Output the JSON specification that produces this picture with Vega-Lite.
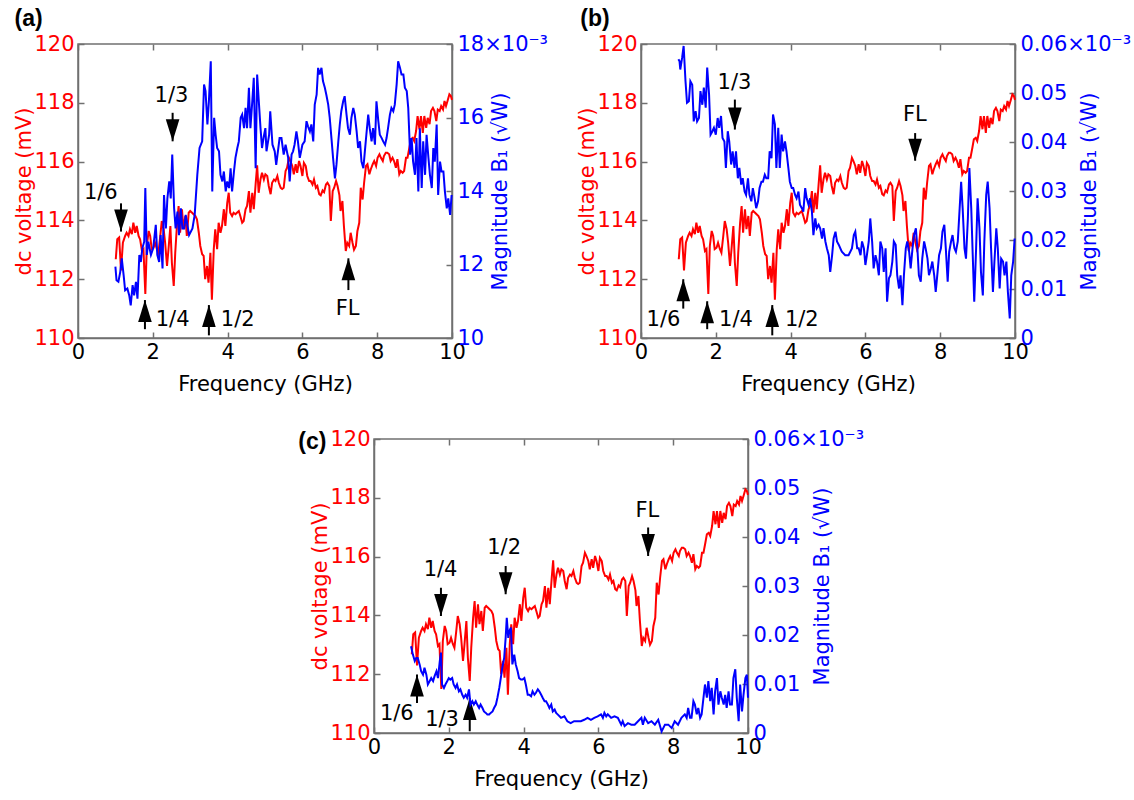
{
  "$schema": "https://vega.github.io/schema/vega-lite/v6.json",
  "background": "white",
  "padding": {"left": 12, "top": 7, "right": 0, "bottom": 0},
  "bounds": "flush",
  "spacing": 395,
  "datasets": {
    "dc": [
      {"f":1.01,"v":112.68},{"f":1.05,"v":113.36},{"f":1.10,"v":113.42},{"f":1.15,"v":112.3},{"f":1.20,"v":113.24},{"f":1.26,"v":113.47},{"f":1.30,"v":113.58},{"f":1.35,"v":113.47},{"f":1.39,"v":113.70},{"f":1.44,"v":113.53},{"f":1.48,"v":113.92},{"f":1.53,"v":113.58},{"f":1.57,"v":113.81},{"f":1.62,"v":113.47},{"f":1.66,"v":113.36},{"f":1.71,"v":112.96},{"f":1.75,"v":113.02},{"f":1.80,"v":111.5},{"f":1.84,"v":113.13},{"f":1.89,"v":113.64},{"f":1.93,"v":113.47},{"f":1.97,"v":113.02},{"f":2.02,"v":113.07},{"f":2.06,"v":113.24},{"f":2.11,"v":113.02},{"f":2.15,"v":112.90},{"f":2.20,"v":113.47},{"f":2.24,"v":113.98},{"f":2.29,"v":113.70},{"f":2.33,"v":113.24},{"f":2.38,"v":112.45},{"f":2.42,"v":113.02},{"f":2.47,"v":113.81},{"f":2.51,"v":112.56},{"f":2.56,"v":111.77},{"f":2.60,"v":112.90},{"f":2.65,"v":113.92},{"f":2.69,"v":114.49},{"f":2.73,"v":113.58},{"f":2.78,"v":114.38},{"f":2.82,"v":113.70},{"f":2.87,"v":114.15},{"f":2.91,"v":113.47},{"f":2.96,"v":114.26},{"f":3.00,"v":114.32},{"f":3.05,"v":114.26},{"f":3.09,"v":114.21},{"f":3.14,"v":114.15},{"f":3.18,"v":114.04},{"f":3.23,"v":113.58},{"f":3.27,"v":113.13},{"f":3.32,"v":112.85},{"f":3.36,"v":112.79},{"f":3.40,"v":112.0},{"f":3.45,"v":112.45},{"f":3.49,"v":111.88},{"f":3.54,"v":112.90},{"f":3.58,"v":111.3},{"f":3.63,"v":113.02},{"f":3.67,"v":113.70},{"f":3.72,"v":113.02},{"f":3.76,"v":113.92},{"f":3.81,"v":113.58},{"f":3.85,"v":113.81},{"f":3.90,"v":114.38},{"f":3.94,"v":113.81},{"f":3.99,"v":114.60},{"f":4.03,"v":114.94},{"f":4.07,"v":114.26},{"f":4.12,"v":114.15},{"f":4.16,"v":114.26},{"f":4.21,"v":114.21},{"f":4.25,"v":114.26},{"f":4.30,"v":114.32},{"f":4.34,"v":114.15},{"f":4.39,"v":113.92},{"f":4.43,"v":113.98},{"f":4.48,"v":114.38},{"f":4.52,"v":114.49},{"f":4.57,"v":115.00},{"f":4.61,"v":114.26},{"f":4.66,"v":114.94},{"f":4.70,"v":114.38},{"f":4.75,"v":115.24},{"f":4.79,"v":115.87},{"f":4.83,"v":114.94},{"f":4.88,"v":115.40},{"f":4.92,"v":115.62},{"f":4.97,"v":115.39},{"f":5.01,"v":115.57},{"f":5.06,"v":115.51},{"f":5.10,"v":115.17},{"f":5.15,"v":114.89},{"f":5.19,"v":115.28},{"f":5.24,"v":115.39},{"f":5.28,"v":115.34},{"f":5.33,"v":115.51},{"f":5.37,"v":115.28},{"f":5.42,"v":115.11},{"f":5.46,"v":115.07},{"f":5.50,"v":115.11},{"f":5.55,"v":115.68},{"f":5.59,"v":115.79},{"f":5.64,"v":116.13},{"f":5.68,"v":116.02},{"f":5.73,"v":115.85},{"f":5.77,"v":115.57},{"f":5.82,"v":115.91},{"f":5.86,"v":115.62},{"f":5.91,"v":116.02},{"f":5.95,"v":115.85},{"f":6.00,"v":115.51},{"f":6.04,"v":115.96},{"f":6.09,"v":115.85},{"f":6.13,"v":115.51},{"f":6.18,"v":115.34},{"f":6.22,"v":115.34},{"f":6.27,"v":115.22},{"f":6.31,"v":115.39},{"f":6.36,"v":115.11},{"f":6.40,"v":115.17},{"f":6.45,"v":114.89},{"f":6.49,"v":114.85},{"f":6.54,"v":115.02},{"f":6.58,"v":114.96},{"f":6.63,"v":115.22},{"f":6.67,"v":115.28},{"f":6.72,"v":115.17},{"f":6.76,"v":113.98},{"f":6.81,"v":115.00},{"f":6.85,"v":115.11},{"f":6.90,"v":115.34},{"f":6.94,"v":115.17},{"f":6.99,"v":114.85},{"f":7.02,"v":114.32},{"f":7.07,"v":114.66},{"f":7.11,"v":113.81},{"f":7.16,"v":112.96},{"f":7.20,"v":113.24},{"f":7.25,"v":113.13},{"f":7.29,"v":113.58},{"f":7.34,"v":113.24},{"f":7.38,"v":113.00},{"f":7.43,"v":113.13},{"f":7.47,"v":113.63},{"f":7.52,"v":113.92},{"f":7.56,"v":115.11},{"f":7.61,"v":114.71},{"f":7.65,"v":115.28},{"f":7.70,"v":115.85},{"f":7.74,"v":115.91},{"f":7.79,"v":115.57},{"f":7.83,"v":115.74},{"f":7.88,"v":115.91},{"f":7.92,"v":116.02},{"f":7.97,"v":115.85},{"f":8.01,"v":116.13},{"f":8.06,"v":116.25},{"f":8.10,"v":116.13},{"f":8.15,"v":116.02},{"f":8.18,"v":116.19},{"f":8.23,"v":116.30},{"f":8.27,"v":116.30},{"f":8.32,"v":116.25},{"f":8.36,"v":116.02},{"f":8.41,"v":116.13},{"f":8.45,"v":116.02},{"f":8.50,"v":115.79},{"f":8.54,"v":116.08},{"f":8.59,"v":115.57},{"f":8.63,"v":115.68},{"f":8.68,"v":115.62},{"f":8.72,"v":115.68},{"f":8.77,"v":116.13},{"f":8.81,"v":116.13},{"f":8.86,"v":116.47},{"f":8.90,"v":116.76},{"f":8.95,"v":116.81},{"f":8.99,"v":116.70},{"f":9.04,"v":117.04},{"f":9.08,"v":117.55},{"f":9.13,"v":117.10},{"f":9.17,"v":117.55},{"f":9.22,"v":116.98},{"f":9.26,"v":117.55},{"f":9.31,"v":117.15},{"f":9.35,"v":117.49},{"f":9.40,"v":117.27},{"f":9.44,"v":117.72},{"f":9.49,"v":117.83},{"f":9.53,"v":117.72},{"f":9.58,"v":117.38},{"f":9.62,"v":117.77},{"f":9.67,"v":117.72},{"f":9.71,"v":117.89},{"f":9.76,"v":117.77},{"f":9.80,"v":118.06},{"f":9.84,"v":117.89},{"f":9.88,"v":118.06},{"f":9.93,"v":118.29},{"f":9.97,"v":118.23},{"f":10.0,"v":118.1}
    ],
    "ba": [
      {"f":1.00,"b":11.94},{"f":1.03,"b":11.57},{"f":1.08,"b":11.53},{"f":1.13,"b":11.80},{"f":1.17,"b":12.17},{"f":1.22,"b":11.71},{"f":1.26,"b":11.30},{"f":1.32,"b":11.35},{"f":1.37,"b":11.16},{"f":1.41,"b":10.89},{"f":1.46,"b":11.44},{"f":1.50,"b":11.16},{"f":1.55,"b":11.53},{"f":1.59,"b":11.07},{"f":1.64,"b":12.26},{"f":1.68,"b":12.07},{"f":1.72,"b":12.44},{"f":1.77,"b":12.62},{"f":1.80,"b":14.08},{"f":1.84,"b":12.26},{"f":1.88,"b":12.62},{"f":1.95,"b":12.26},{"f":2.01,"b":12.44},{"f":2.08,"b":13.08},{"f":2.12,"b":12.26},{"f":2.17,"b":12.07},{"f":2.21,"b":12.80},{"f":2.26,"b":11.89},{"f":2.30,"b":13.89},{"f":2.35,"b":12.98},{"f":2.39,"b":13.80},{"f":2.44,"b":14.26},{"f":2.48,"b":13.80},{"f":2.52,"b":14.99},{"f":2.57,"b":13.53},{"f":2.61,"b":12.98},{"f":2.66,"b":13.44},{"f":2.70,"b":12.80},{"f":2.75,"b":13.53},{"f":2.79,"b":12.98},{"f":2.84,"b":12.98},{"f":2.88,"b":13.35},{"f":2.97,"b":12.80},{"f":3.06,"b":12.98},{"f":3.12,"b":13.35},{"f":3.19,"b":14.44},{"f":3.25,"b":15.17},{"f":3.32,"b":15.35},{"f":3.37,"b":16.90},{"f":3.41,"b":16.72},{"f":3.46,"b":15.81},{"f":3.50,"b":16.44},{"f":3.55,"b":17.53},{"f":3.59,"b":13.99},{"f":3.64,"b":15.99},{"f":3.68,"b":15.53},{"f":3.72,"b":15.17},{"f":3.77,"b":15.08},{"f":3.81,"b":14.44},{"f":3.86,"b":14.26},{"f":3.90,"b":14.53},{"f":3.95,"b":13.99},{"f":3.99,"b":14.26},{"f":4.04,"b":14.08},{"f":4.08,"b":14.62},{"f":4.12,"b":13.99},{"f":4.17,"b":14.53},{"f":4.21,"b":14.90},{"f":4.26,"b":15.17},{"f":4.30,"b":15.35},{"f":4.35,"b":15.99},{"f":4.39,"b":16.08},{"f":4.44,"b":15.71},{"f":4.48,"b":16.26},{"f":4.52,"b":15.71},{"f":4.57,"b":16.81},{"f":4.61,"b":15.71},{"f":4.66,"b":16.44},{"f":4.70,"b":17.08},{"f":4.75,"b":14.62},{"f":4.79,"b":17.17},{"f":4.84,"b":16.35},{"f":4.88,"b":15.71},{"f":4.92,"b":15.17},{"f":4.97,"b":15.50},{"f":5.01,"b":15.71},{"f":5.04,"b":15.08},{"f":5.11,"b":15.53},{"f":5.14,"b":16.17},{"f":5.20,"b":15.26},{"f":5.26,"b":15.08},{"f":5.30,"b":14.71},{"f":5.39,"b":15.44},{"f":5.44,"b":15.44},{"f":5.50,"b":14.99},{"f":5.55,"b":15.26},{"f":5.62,"b":14.90},{"f":5.66,"b":14.26},{"f":5.71,"b":14.99},{"f":5.75,"b":15.08},{"f":5.79,"b":15.26},{"f":5.84,"b":15.62},{"f":5.88,"b":15.35},{"f":5.93,"b":14.90},{"f":6.00,"b":15.26},{"f":6.06,"b":15.35},{"f":6.11,"b":15.90},{"f":6.15,"b":15.76},{"f":6.20,"b":15.62},{"f":6.24,"b":15.81},{"f":6.29,"b":15.35},{"f":6.33,"b":16.35},{"f":6.38,"b":16.62},{"f":6.42,"b":17.35},{"f":6.46,"b":17.17},{"f":6.51,"b":17.35},{"f":6.55,"b":16.99},{"f":6.60,"b":16.81},{"f":6.64,"b":16.62},{"f":6.69,"b":16.35},{"f":6.73,"b":16.00},{"f":6.78,"b":15.40},{"f":6.82,"b":14.90},{"f":6.87,"b":14.34},{"f":6.91,"b":14.71},{"f":6.96,"b":15.35},{"f":7.00,"b":15.81},{"f":7.04,"b":16.17},{"f":7.09,"b":16.44},{"f":7.13,"b":16.58},{"f":7.18,"b":16.08},{"f":7.22,"b":15.71},{"f":7.27,"b":15.53},{"f":7.31,"b":15.99},{"f":7.36,"b":16.26},{"f":7.40,"b":16.08},{"f":7.45,"b":15.62},{"f":7.49,"b":15.17},{"f":7.54,"b":15.35},{"f":7.58,"b":14.80},{"f":7.63,"b":14.62},{"f":7.67,"b":15.08},{"f":7.71,"b":15.53},{"f":7.76,"b":16.08},{"f":7.80,"b":15.71},{"f":7.85,"b":15.35},{"f":7.89,"b":15.71},{"f":7.94,"b":15.26},{"f":7.98,"b":16.44},{"f":8.03,"b":15.90},{"f":8.07,"b":15.53},{"f":8.12,"b":15.44},{"f":8.16,"b":15.35},{"f":8.21,"b":15.26},{"f":8.25,"b":15.44},{"f":8.29,"b":15.71},{"f":8.34,"b":16.08},{"f":8.38,"b":16.26},{"f":8.43,"b":16.17},{"f":8.47,"b":16.35},{"f":8.52,"b":16.90},{"f":8.56,"b":17.53},{"f":8.61,"b":17.35},{"f":8.65,"b":17.17},{"f":8.70,"b":17.17},{"f":8.74,"b":16.81},{"f":8.79,"b":16.72},{"f":8.83,"b":16.26},{"f":8.88,"b":14.99},{"f":8.92,"b":15.44},{"f":8.96,"b":14.80},{"f":9.01,"b":14.44},{"f":9.05,"b":15.44},{"f":9.10,"b":13.99},{"f":9.14,"b":15.71},{"f":9.19,"b":14.08},{"f":9.23,"b":15.35},{"f":9.28,"b":14.44},{"f":9.32,"b":15.53},{"f":9.37,"b":14.90},{"f":9.41,"b":14.44},{"f":9.46,"b":14.08},{"f":9.50,"b":15.17},{"f":9.54,"b":14.80},{"f":9.59,"b":15.81},{"f":9.63,"b":13.89},{"f":9.68,"b":14.80},{"f":9.72,"b":14.53},{"f":9.77,"b":14.53},{"f":9.81,"b":13.99},{"f":9.86,"b":13.53},{"f":9.90,"b":13.80},{"f":9.95,"b":13.35},{"f":9.99,"b":13.89}
    ],
    "bb": [
      {"f":1.00,"b":0.0569},{"f":1.03,"b":0.0565},{"f":1.05,"b":0.0548},{"f":1.10,"b":0.0572},{"f":1.14,"b":0.0596},{"f":1.19,"b":0.0524},{"f":1.23,"b":0.0480},{"f":1.28,"b":0.0483},{"f":1.32,"b":0.0524},{"f":1.37,"b":0.0517},{"f":1.41,"b":0.0442},{"f":1.46,"b":0.0463},{"f":1.50,"b":0.0442},{"f":1.55,"b":0.0449},{"f":1.59,"b":0.0504},{"f":1.64,"b":0.0476},{"f":1.68,"b":0.0511},{"f":1.73,"b":0.0470},{"f":1.77,"b":0.0552},{"f":1.82,"b":0.0497},{"f":1.86,"b":0.0415},{"f":1.91,"b":0.0422},{"f":1.95,"b":0.0429},{"f":2.00,"b":0.0415},{"f":2.05,"b":0.0449},{"f":2.09,"b":0.0429},{"f":2.14,"b":0.0453},{"f":2.18,"b":0.0408},{"f":2.23,"b":0.0401},{"f":2.27,"b":0.0347},{"f":2.32,"b":0.0422},{"f":2.36,"b":0.0401},{"f":2.41,"b":0.0354},{"f":2.45,"b":0.0381},{"f":2.50,"b":0.0347},{"f":2.54,"b":0.0381},{"f":2.59,"b":0.0326},{"f":2.63,"b":0.0347},{"f":2.68,"b":0.0313},{"f":2.72,"b":0.0326},{"f":2.77,"b":0.0299},{"f":2.81,"b":0.0292},{"f":2.86,"b":0.0326},{"f":2.90,"b":0.0292},{"f":2.95,"b":0.0279},{"f":2.99,"b":0.0306},{"f":3.04,"b":0.0285},{"f":3.08,"b":0.0265},{"f":3.13,"b":0.0279},{"f":3.17,"b":0.0306},{"f":3.22,"b":0.0319},{"f":3.26,"b":0.0319},{"f":3.31,"b":0.0333},{"f":3.35,"b":0.0326},{"f":3.40,"b":0.0326},{"f":3.44,"b":0.0381},{"f":3.49,"b":0.0367},{"f":3.53,"b":0.0456},{"f":3.58,"b":0.0436},{"f":3.62,"b":0.0347},{"f":3.67,"b":0.0429},{"f":3.71,"b":0.0347},{"f":3.76,"b":0.0415},{"f":3.80,"b":0.0381},{"f":3.85,"b":0.0401},{"f":3.89,"b":0.0381},{"f":3.94,"b":0.0347},{"f":3.98,"b":0.0319},{"f":4.03,"b":0.0306},{"f":4.07,"b":0.0306},{"f":4.12,"b":0.0292},{"f":4.16,"b":0.0285},{"f":4.21,"b":0.0299},{"f":4.25,"b":0.0272},{"f":4.30,"b":0.0265},{"f":4.34,"b":0.0258},{"f":4.39,"b":0.0306},{"f":4.43,"b":0.0285},{"f":4.48,"b":0.0272},{"f":4.52,"b":0.0285},{"f":4.57,"b":0.0258},{"f":4.61,"b":0.0210},{"f":4.66,"b":0.0244},{"f":4.70,"b":0.0224},{"f":4.75,"b":0.0231},{"f":4.79,"b":0.0224},{"f":4.84,"b":0.0203},{"f":4.88,"b":0.0224},{"f":4.93,"b":0.0197},{"f":4.97,"b":0.0183},{"f":5.02,"b":0.0169},{"f":5.06,"b":0.0135},{"f":5.11,"b":0.0169},{"f":5.15,"b":0.0203},{"f":5.20,"b":0.0217},{"f":5.24,"b":0.0197},{"f":5.29,"b":0.0190},{"f":5.33,"b":0.0183},{"f":5.37,"b":0.0176},{"f":5.46,"b":0.0169},{"f":5.55,"b":0.0169},{"f":5.64,"b":0.0183},{"f":5.69,"b":0.0210},{"f":5.73,"b":0.0217},{"f":5.78,"b":0.0183},{"f":5.82,"b":0.0183},{"f":5.87,"b":0.0169},{"f":5.91,"b":0.0197},{"f":5.96,"b":0.0183},{"f":6.00,"b":0.0149},{"f":6.04,"b":0.0169},{"f":6.09,"b":0.0197},{"f":6.13,"b":0.0244},{"f":6.18,"b":0.0197},{"f":6.22,"b":0.0142},{"f":6.27,"b":0.0169},{"f":6.31,"b":0.0156},{"f":6.36,"b":0.0128},{"f":6.40,"b":0.0197},{"f":6.45,"b":0.0183},{"f":6.49,"b":0.0135},{"f":6.54,"b":0.0183},{"f":6.58,"b":0.0074},{"f":6.63,"b":0.0122},{"f":6.67,"b":0.0128},{"f":6.72,"b":0.0156},{"f":6.76,"b":0.0197},{"f":6.81,"b":0.0190},{"f":6.85,"b":0.0128},{"f":6.90,"b":0.0101},{"f":6.94,"b":0.0128},{"f":6.99,"b":0.0067},{"f":7.03,"b":0.0128},{"f":7.08,"b":0.0183},{"f":7.12,"b":0.0197},{"f":7.17,"b":0.0176},{"f":7.21,"b":0.0142},{"f":7.26,"b":0.0183},{"f":7.30,"b":0.0210},{"f":7.35,"b":0.0224},{"f":7.39,"b":0.0183},{"f":7.43,"b":0.0128},{"f":7.48,"b":0.0115},{"f":7.52,"b":0.0162},{"f":7.57,"b":0.0197},{"f":7.61,"b":0.0183},{"f":7.66,"b":0.0162},{"f":7.70,"b":0.0128},{"f":7.75,"b":0.0142},{"f":7.79,"b":0.0156},{"f":7.84,"b":0.0128},{"f":7.88,"b":0.0094},{"f":7.93,"b":0.0135},{"f":7.97,"b":0.0169},{"f":8.02,"b":0.0183},{"f":8.06,"b":0.0217},{"f":8.11,"b":0.0231},{"f":8.15,"b":0.0183},{"f":8.20,"b":0.0115},{"f":8.24,"b":0.0176},{"f":8.29,"b":0.0197},{"f":8.33,"b":0.0210},{"f":8.38,"b":0.0183},{"f":8.42,"b":0.0176},{"f":8.47,"b":0.0197},{"f":8.51,"b":0.0251},{"f":8.56,"b":0.0319},{"f":8.60,"b":0.0265},{"f":8.65,"b":0.0183},{"f":8.69,"b":0.0162},{"f":8.74,"b":0.0244},{"f":8.78,"b":0.0347},{"f":8.83,"b":0.0265},{"f":8.87,"b":0.0169},{"f":8.91,"b":0.0074},{"f":8.96,"b":0.0183},{"f":9.00,"b":0.0285},{"f":9.05,"b":0.0224},{"f":9.09,"b":0.0135},{"f":9.14,"b":0.0087},{"f":9.18,"b":0.0197},{"f":9.23,"b":0.0292},{"f":9.27,"b":0.0319},{"f":9.32,"b":0.0265},{"f":9.36,"b":0.0183},{"f":9.41,"b":0.0094},{"f":9.45,"b":0.0156},{"f":9.50,"b":0.0224},{"f":9.54,"b":0.0183},{"f":9.59,"b":0.0101},{"f":9.63,"b":0.0162},{"f":9.68,"b":0.0156},{"f":9.72,"b":0.0128},{"f":9.77,"b":0.0156},{"f":9.81,"b":0.0094},{"f":9.86,"b":0.0040},{"f":9.90,"b":0.0128},{"f":9.95,"b":0.0156},{"f":9.99,"b":0.0203}
    ],
    "bc": [
      {"f":0.99,"b":0.0177},{"f":1.04,"b":0.0160},{"f":1.09,"b":0.0147},{"f":1.13,"b":0.0153},{"f":1.17,"b":0.0153},{"f":1.22,"b":0.0140},{"f":1.26,"b":0.0126},{"f":1.31,"b":0.0119},{"f":1.35,"b":0.0133},{"f":1.40,"b":0.0119},{"f":1.44,"b":0.0099},{"f":1.49,"b":0.0106},{"f":1.53,"b":0.0112},{"f":1.58,"b":0.0106},{"f":1.62,"b":0.0116},{"f":1.67,"b":0.0126},{"f":1.71,"b":0.0112},{"f":1.76,"b":0.0147},{"f":1.79,"b":0.0164},{"f":1.82,"b":0.0099},{"f":1.87,"b":0.0092},{"f":1.91,"b":0.0099},{"f":1.96,"b":0.0106},{"f":2.00,"b":0.0112},{"f":2.04,"b":0.0109},{"f":2.09,"b":0.0112},{"f":2.13,"b":0.0099},{"f":2.18,"b":0.0092},{"f":2.22,"b":0.0099},{"f":2.27,"b":0.0085},{"f":2.31,"b":0.0089},{"f":2.36,"b":0.0078},{"f":2.40,"b":0.0072},{"f":2.45,"b":0.0078},{"f":2.49,"b":0.0072},{"f":2.54,"b":0.0089},{"f":2.58,"b":0.0058},{"f":2.63,"b":0.0065},{"f":2.67,"b":0.0058},{"f":2.72,"b":0.0065},{"f":2.76,"b":0.0058},{"f":2.81,"b":0.0051},{"f":2.85,"b":0.0058},{"f":2.90,"b":0.0051},{"f":2.94,"b":0.0044},{"f":2.99,"b":0.0041},{"f":3.03,"b":0.0038},{"f":3.08,"b":0.0038},{"f":3.12,"b":0.0041},{"f":3.17,"b":0.0044},{"f":3.21,"b":0.0051},{"f":3.26,"b":0.0058},{"f":3.30,"b":0.0072},{"f":3.35,"b":0.0092},{"f":3.39,"b":0.0112},{"f":3.43,"b":0.0133},{"f":3.48,"b":0.0153},{"f":3.52,"b":0.0194},{"f":3.55,"b":0.0235},{"f":3.59,"b":0.0194},{"f":3.62,"b":0.0208},{"f":3.66,"b":0.0215},{"f":3.70,"b":0.0140},{"f":3.75,"b":0.0160},{"f":3.79,"b":0.0140},{"f":3.84,"b":0.0126},{"f":3.88,"b":0.0112},{"f":3.93,"b":0.0109},{"f":3.97,"b":0.0109},{"f":4.02,"b":0.0112},{"f":4.06,"b":0.0099},{"f":4.11,"b":0.0078},{"f":4.15,"b":0.0078},{"f":4.20,"b":0.0075},{"f":4.24,"b":0.0085},{"f":4.29,"b":0.0078},{"f":4.33,"b":0.0082},{"f":4.38,"b":0.0089},{"f":4.42,"b":0.0085},{"f":4.47,"b":0.0078},{"f":4.51,"b":0.0072},{"f":4.56,"b":0.0065},{"f":4.60,"b":0.0065},{"f":4.65,"b":0.0058},{"f":4.69,"b":0.0051},{"f":4.74,"b":0.0058},{"f":4.78,"b":0.0044},{"f":4.83,"b":0.0048},{"f":4.87,"b":0.0041},{"f":4.91,"b":0.0038},{"f":5.00,"b":0.0031},{"f":5.09,"b":0.0034},{"f":5.17,"b":0.0024},{"f":5.26,"b":0.0020},{"f":5.35,"b":0.0024},{"f":5.44,"b":0.0024},{"f":5.53,"b":0.0024},{"f":5.62,"b":0.0027},{"f":5.71,"b":0.0031},{"f":5.80,"b":0.0027},{"f":5.89,"b":0.0031},{"f":5.98,"b":0.0034},{"f":6.07,"b":0.0038},{"f":6.12,"b":0.0031},{"f":6.16,"b":0.0041},{"f":6.21,"b":0.0034},{"f":6.25,"b":0.0038},{"f":6.34,"b":0.0031},{"f":6.43,"b":0.0034},{"f":6.52,"b":0.0031},{"f":6.61,"b":0.0017},{"f":6.65,"b":0.0024},{"f":6.70,"b":0.0014},{"f":6.79,"b":0.0020},{"f":6.88,"b":0.0017},{"f":6.97,"b":0.0017},{"f":7.06,"b":0.0024},{"f":7.15,"b":0.0031},{"f":7.19,"b":0.0017},{"f":7.24,"b":0.0031},{"f":7.33,"b":0.0020},{"f":7.42,"b":0.0024},{"f":7.51,"b":0.0017},{"f":7.60,"b":0.0027},{"f":7.69,"b":0.0003},{"f":7.78,"b":0.0017},{"f":7.87,"b":0.0017},{"f":7.96,"b":0.0010},{"f":8.04,"b":0.0024},{"f":8.13,"b":0.0017},{"f":8.22,"b":0.0031},{"f":8.31,"b":0.0038},{"f":8.36,"b":0.0031},{"f":8.40,"b":0.0051},{"f":8.45,"b":0.0031},{"f":8.49,"b":0.0031},{"f":8.54,"b":0.0065},{"f":8.58,"b":0.0058},{"f":8.63,"b":0.0038},{"f":8.67,"b":0.0051},{"f":8.72,"b":0.0031},{"f":8.76,"b":0.0038},{"f":8.81,"b":0.0072},{"f":8.85,"b":0.0099},{"f":8.90,"b":0.0072},{"f":8.94,"b":0.0106},{"f":8.99,"b":0.0065},{"f":9.03,"b":0.0092},{"f":9.08,"b":0.0038},{"f":9.12,"b":0.0085},{"f":9.17,"b":0.0112},{"f":9.21,"b":0.0058},{"f":9.26,"b":0.0085},{"f":9.30,"b":0.0072},{"f":9.35,"b":0.0058},{"f":9.39,"b":0.0078},{"f":9.43,"b":0.0051},{"f":9.48,"b":0.0085},{"f":9.52,"b":0.0058},{"f":9.57,"b":0.0058},{"f":9.61,"b":0.0112},{"f":9.66,"b":0.0130},{"f":9.70,"b":0.0072},{"f":9.75,"b":0.0024},{"f":9.79,"b":0.0099},{"f":9.84,"b":0.0044},{"f":9.88,"b":0.0078},{"f":9.93,"b":0.0112},{"f":9.97,"b":0.0119},{"f":10.0,"b":0.0072}
    ],
    "arr": [
      {"p":"a","f":1.15,"v":114.58,"v2":113.62,"d":"down"},
      {"p":"a","f":2.53,"v":117.66,"v2":116.69,"d":"down"},
      {"p":"a","f":1.79,"v":110.30,"v2":111.29,"d":"up"},
      {"p":"a","f":3.50,"v":110.09,"v2":111.12,"d":"up"},
      {"p":"a","f":7.23,"v":111.63,"v2":112.71,"d":"up"},
      {"p":"b","f":1.13,"v":111.0,"v2":112.0,"d":"up"},
      {"p":"b","f":1.77,"v":110.3,"v2":111.25,"d":"up"},
      {"p":"b","f":3.51,"v":110.09,"v2":111.12,"d":"up"},
      {"p":"b","f":2.51,"v":118.11,"v2":117.09,"d":"down"},
      {"p":"b","f":7.33,"v":116.97,"v2":116.03,"d":"down"},
      {"p":"c","f":1.15,"v":111.02,"v2":111.99,"d":"up"},
      {"p":"c","f":2.56,"v":110.06,"v2":111.19,"d":"up"},
      {"p":"c","f":1.79,"v":114.94,"v2":113.98,"d":"down"},
      {"p":"c","f":3.52,"v":115.68,"v2":114.72,"d":"down"},
      {"p":"c","f":7.33,"v":116.99,"v2":116.02,"d":"down"}
    ],
    "lab": [
      {"p":"a","t":"1/6","f":0.61,"v":114.93},
      {"p":"a","t":"1/3","f":2.50,"v":118.24},
      {"p":"a","t":"1/4","f":2.53,"v":110.62},
      {"p":"a","t":"1/2","f":4.27,"v":110.62},
      {"p":"a","t":"FL","f":7.21,"v":111.0},
      {"p":"b","t":"1/6","f":0.60,"v":110.6},
      {"p":"b","t":"1/4","f":2.54,"v":110.6},
      {"p":"b","t":"1/2","f":4.30,"v":110.6},
      {"p":"b","t":"1/3","f":2.50,"v":118.66},
      {"p":"b","t":"FL","f":7.32,"v":117.6},
      {"p":"c","t":"1/6","f":0.61,"v":110.65},
      {"p":"c","t":"1/3","f":1.82,"v":110.45},
      {"p":"c","t":"1/4","f":1.78,"v":115.53},
      {"p":"c","t":"1/2","f":3.48,"v":116.3},
      {"p":"c","t":"FL","f":7.31,"v":117.56}
    ],
    "tag": [
      {"p":"a","t":"(a)","f":-1.32,"v":120.85},
      {"p":"b","t":"(b)","f":-1.23,"v":120.85},
      {"p":"c","t":"(c)","f":-1.65,"v":119.9}
    ]
  },
  "vconcat": [
    {
      "bounds": "flush",
      "spacing": 189,
      "hconcat": [
        {
          "width": 374, "height": 294,
          "layer": [
            {
              "layer": [
                {"data": {"name": "dc"}, "mark": {"type": "line", "color": "#ff0000", "strokeWidth": 2},
                 "encoding": {
                   "x": {"field": "f", "type": "quantitative", "scale": {"domain": [0, 10]}, "axis": {"orient": "bottom", "values": [0,2,4,6,8,10], "title": "Frequency (GHz)", "labelPadding": 9, "titleX": 187, "titleY": 46, "titleBaseline": "middle"}},
                   "y": {"field": "v", "type": "quantitative", "scale": {"domain": [110, 120]}, "axis": {"orient": "left", "values": [110,112,114,116,118,120], "title": "dc voltage (mV)", "labelColor": "#ff0000", "titleColor": "#ff0000", "labelPadding": 10, "titleX": -54, "titleY": 147, "titleBaseline": "middle"}}}},
                {"data": {"name": "arr"}, "transform": [{"filter": "datum.p == 'a'"}], "mark": {"type": "rule", "color": "#000000", "strokeWidth": 2},
                 "encoding": {"x": {"field": "f", "type": "quantitative", "scale": {"domain": [0, 10]}}, "y": {"field": "v", "type": "quantitative", "scale": {"domain": [110, 120]}}, "y2": {"field": "v2"}}},
                {"data": {"name": "arr"}, "transform": [{"filter": "datum.p == 'a'"}], "mark": {"type": "point", "filled": true, "opacity": 1, "color": "#000000", "size": 484, "strokeWidth": 0},
                 "encoding": {"x": {"field": "f", "type": "quantitative", "scale": {"domain": [0, 10]}}, "y": {"field": "v2", "type": "quantitative", "scale": {"domain": [110, 120]}},
                   "shape": {"field": "d", "type": "nominal", "scale": {"domain": ["down", "up"], "range": ["M0,0L-0.62,-2L0.62,-2Z", "M0,0L-0.62,2L0.62,2Z"]}, "legend": null}}},
                {"data": {"name": "lab"}, "transform": [{"filter": "datum.p == 'a'"}], "mark": {"type": "text", "font": "DejaVu Sans", "fontSize": 21, "color": "#000000", "baseline": "middle"},
                 "encoding": {"x": {"field": "f", "type": "quantitative", "scale": {"domain": [0, 10]}}, "y": {"field": "v", "type": "quantitative", "scale": {"domain": [110, 120]}}, "text": {"field": "t"}}},
                {"data": {"name": "tag"}, "transform": [{"filter": "datum.p == 'a'"}], "mark": {"type": "text", "font": "Liberation Sans", "fontWeight": "bold", "fontSize": 23, "color": "#000000", "baseline": "middle"},
                 "encoding": {"x": {"field": "f", "type": "quantitative", "scale": {"domain": [0, 10]}}, "y": {"field": "v", "type": "quantitative", "scale": {"domain": [110, 120]}}, "text": {"field": "t"}}}
              ]
            },
            {"data": {"name": "ba"}, "mark": {"type": "line", "color": "#0000ff", "strokeWidth": 2},
             "encoding": {
               "x": {"field": "f", "type": "quantitative", "scale": {"domain": [0, 10]}, "axis": {"orient": "top", "values": [0,2,4,6,8,10], "labels": false, "title": null, "domain": false}},
               "y": {"field": "b", "type": "quantitative", "scale": {"domain": [10, 18]}, "axis": {"orient": "right", "values": [10,12,14,16,18], "title": "Magnitude B₁ (√W)", "titleAngle": 270, "labelColor": "#0000ff", "titleColor": "#0000ff", "labelPadding": 11, "titleX": 48, "titleY": 147, "titleBaseline": "middle", "labelExpr": "datum.value == 18 ? '18×10⁻³' : datum.label"}}}}
          ],
          "resolve": {"scale": {"y": "independent"}, "axis": {"x": "independent"}}
        },
        {
          "width": 374, "height": 294,
          "layer": [
            {
              "layer": [
                {"data": {"name": "dc"}, "mark": {"type": "line", "color": "#ff0000", "strokeWidth": 2},
                 "encoding": {
                   "x": {"field": "f", "type": "quantitative", "scale": {"domain": [0, 10]}, "axis": {"orient": "bottom", "values": [0,2,4,6,8,10], "title": "Frequency (GHz)", "labelPadding": 9, "titleX": 187, "titleY": 46, "titleBaseline": "middle"}},
                   "y": {"field": "v", "type": "quantitative", "scale": {"domain": [110, 120]}, "axis": {"orient": "left", "values": [110,112,114,116,118,120], "title": "dc voltage (mV)", "labelColor": "#ff0000", "titleColor": "#ff0000", "labelPadding": 10, "titleX": -54, "titleY": 147, "titleBaseline": "middle"}}}},
                {"data": {"name": "arr"}, "transform": [{"filter": "datum.p == 'b'"}], "mark": {"type": "rule", "color": "#000000", "strokeWidth": 2},
                 "encoding": {"x": {"field": "f", "type": "quantitative", "scale": {"domain": [0, 10]}}, "y": {"field": "v", "type": "quantitative", "scale": {"domain": [110, 120]}}, "y2": {"field": "v2"}}},
                {"data": {"name": "arr"}, "transform": [{"filter": "datum.p == 'b'"}], "mark": {"type": "point", "filled": true, "opacity": 1, "color": "#000000", "size": 484, "strokeWidth": 0},
                 "encoding": {"x": {"field": "f", "type": "quantitative", "scale": {"domain": [0, 10]}}, "y": {"field": "v2", "type": "quantitative", "scale": {"domain": [110, 120]}},
                   "shape": {"field": "d", "type": "nominal", "scale": {"domain": ["down", "up"], "range": ["M0,0L-0.62,-2L0.62,-2Z", "M0,0L-0.62,2L0.62,2Z"]}, "legend": null}}},
                {"data": {"name": "lab"}, "transform": [{"filter": "datum.p == 'b'"}], "mark": {"type": "text", "font": "DejaVu Sans", "fontSize": 21, "color": "#000000", "baseline": "middle"},
                 "encoding": {"x": {"field": "f", "type": "quantitative", "scale": {"domain": [0, 10]}}, "y": {"field": "v", "type": "quantitative", "scale": {"domain": [110, 120]}}, "text": {"field": "t"}}},
                {"data": {"name": "tag"}, "transform": [{"filter": "datum.p == 'b'"}], "mark": {"type": "text", "font": "Liberation Sans", "fontWeight": "bold", "fontSize": 23, "color": "#000000", "baseline": "middle"},
                 "encoding": {"x": {"field": "f", "type": "quantitative", "scale": {"domain": [0, 10]}}, "y": {"field": "v", "type": "quantitative", "scale": {"domain": [110, 120]}}, "text": {"field": "t"}}}
              ]
            },
            {"data": {"name": "bb"}, "mark": {"type": "line", "color": "#0000ff", "strokeWidth": 2},
             "encoding": {
               "x": {"field": "f", "type": "quantitative", "scale": {"domain": [0, 10]}, "axis": {"orient": "top", "values": [0,2,4,6,8,10], "labels": false, "title": null, "domain": false}},
               "y": {"field": "b", "type": "quantitative", "scale": {"domain": [0, 0.06]}, "axis": {"orient": "right", "values": [0,0.01,0.02,0.03,0.04,0.05,0.06], "format": ".2~f", "title": "Magnitude B₁ (√W)", "titleAngle": 270, "labelColor": "#0000ff", "titleColor": "#0000ff", "labelPadding": 11, "titleX": 74, "titleY": 147, "titleBaseline": "middle", "labelExpr": "datum.value > 0.059 ? '0.06×10⁻³' : datum.label"}}}}
          ],
          "resolve": {"scale": {"y": "independent"}, "axis": {"x": "independent"}}
        }
      ]
    },
    {
      "bounds": "flush",
      "spacing": 0,
      "hconcat": [
        {"width": 296, "height": 10, "data": {"values": []}, "mark": "point", "view": {"stroke": null}},
        {
          "width": 374, "height": 294,
          "layer": [
            {
              "layer": [
                {"data": {"name": "dc"}, "mark": {"type": "line", "color": "#ff0000", "strokeWidth": 2},
                 "encoding": {
                   "x": {"field": "f", "type": "quantitative", "scale": {"domain": [0, 10]}, "axis": {"orient": "bottom", "values": [0,2,4,6,8,10], "title": "Frequency (GHz)", "labelPadding": 9, "titleX": 187, "titleY": 46, "titleBaseline": "middle"}},
                   "y": {"field": "v", "type": "quantitative", "scale": {"domain": [110, 120]}, "axis": {"orient": "left", "values": [110,112,114,116,118,120], "title": "dc voltage (mV)", "labelColor": "#ff0000", "titleColor": "#ff0000", "labelPadding": 10, "titleX": -54, "titleY": 147, "titleBaseline": "middle"}}}},
                {"data": {"name": "arr"}, "transform": [{"filter": "datum.p == 'c'"}], "mark": {"type": "rule", "color": "#000000", "strokeWidth": 2},
                 "encoding": {"x": {"field": "f", "type": "quantitative", "scale": {"domain": [0, 10]}}, "y": {"field": "v", "type": "quantitative", "scale": {"domain": [110, 120]}}, "y2": {"field": "v2"}}},
                {"data": {"name": "arr"}, "transform": [{"filter": "datum.p == 'c'"}], "mark": {"type": "point", "filled": true, "opacity": 1, "color": "#000000", "size": 484, "strokeWidth": 0},
                 "encoding": {"x": {"field": "f", "type": "quantitative", "scale": {"domain": [0, 10]}}, "y": {"field": "v2", "type": "quantitative", "scale": {"domain": [110, 120]}},
                   "shape": {"field": "d", "type": "nominal", "scale": {"domain": ["down", "up"], "range": ["M0,0L-0.62,-2L0.62,-2Z", "M0,0L-0.62,2L0.62,2Z"]}, "legend": null}}},
                {"data": {"name": "lab"}, "transform": [{"filter": "datum.p == 'c'"}], "mark": {"type": "text", "font": "DejaVu Sans", "fontSize": 21, "color": "#000000", "baseline": "middle"},
                 "encoding": {"x": {"field": "f", "type": "quantitative", "scale": {"domain": [0, 10]}}, "y": {"field": "v", "type": "quantitative", "scale": {"domain": [110, 120]}}, "text": {"field": "t"}}},
                {"data": {"name": "tag"}, "transform": [{"filter": "datum.p == 'c'"}], "mark": {"type": "text", "font": "Liberation Sans", "fontWeight": "bold", "fontSize": 23, "color": "#000000", "baseline": "middle"},
                 "encoding": {"x": {"field": "f", "type": "quantitative", "scale": {"domain": [0, 10]}}, "y": {"field": "v", "type": "quantitative", "scale": {"domain": [110, 120]}}, "text": {"field": "t"}}}
              ]
            },
            {"data": {"name": "bc"}, "mark": {"type": "line", "color": "#0000ff", "strokeWidth": 2},
             "encoding": {
               "x": {"field": "f", "type": "quantitative", "scale": {"domain": [0, 10]}, "axis": {"orient": "top", "values": [0,2,4,6,8,10], "labels": false, "title": null, "domain": false}},
               "y": {"field": "b", "type": "quantitative", "scale": {"domain": [0, 0.06]}, "axis": {"orient": "right", "values": [0,0.01,0.02,0.03,0.04,0.05,0.06], "format": ".2~f", "title": "Magnitude B₁ (√W)", "titleAngle": 270, "labelColor": "#0000ff", "titleColor": "#0000ff", "labelPadding": 11, "titleX": 74, "titleY": 147, "titleBaseline": "middle", "labelExpr": "datum.value > 0.059 ? '0.06×10⁻³' : datum.label"}}}}
          ],
          "resolve": {"scale": {"y": "independent"}, "axis": {"x": "independent"}}
        }
      ]
    }
  ],
  "config": {
    "font": "DejaVu Sans",
    "view": {"stroke": "#707070", "strokeWidth": 1.5},
    "axis": {"grid": false, "domainColor": "#707070", "domainWidth": 1.5, "tickColor": "#707070", "tickWidth": 1.5, "tickSize": -6, "labelFont": "DejaVu Sans", "labelFontSize": 21, "labelColor": "#000000", "titleFont": "DejaVu Sans", "titleFontSize": 21, "titleFontWeight": "normal", "titleColor": "#000000", "labelFlush": false, "labelOverlap": false}
  }
}
